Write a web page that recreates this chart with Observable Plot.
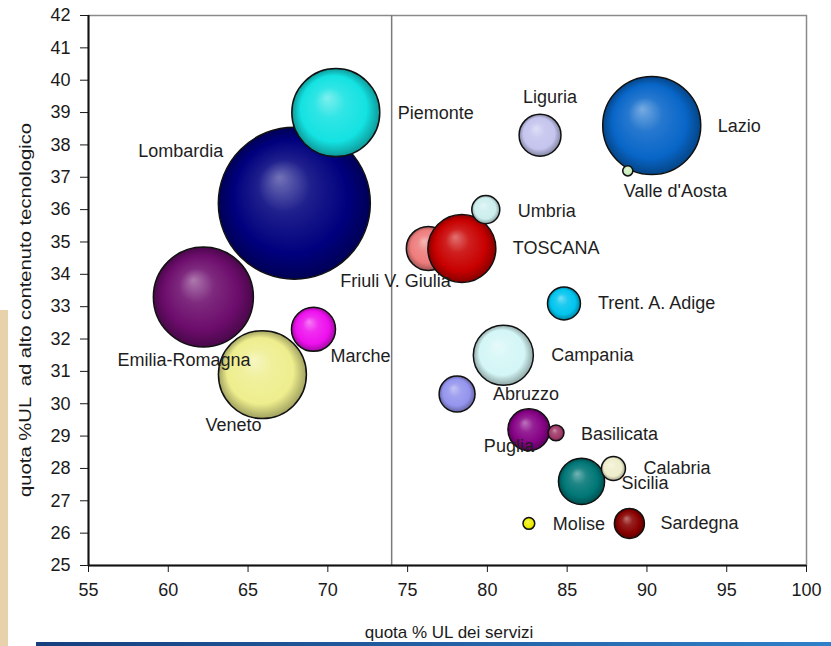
<!DOCTYPE html>
<html><head><meta charset="utf-8">
<script src="https://cdn.jsdelivr.net/npm/d3@7"></script>
<script src="https://cdn.jsdelivr.net/npm/@observablehq/plot@0.6"></script>
<style>
html,body{margin:0;padding:0;background:#fff;}
#wrap{position:relative;width:831px;height:646px;overflow:hidden;background:#fff;}
#chart{position:absolute;left:0;top:0;}
#beige{position:absolute;left:0;top:310px;width:8px;height:336px;background:#e8d2ab;}
#bar{position:absolute;left:36px;top:642px;width:795px;height:4px;background:linear-gradient(90deg,#163f7e,#2f80c8);}
</style></head><body>
<div id="wrap"><div id="chart"></div><div id="beige"></div><div id="bar"></div></div>
<script>
// Data (draw order)
const regions = ["Lombardia","Piemonte","Lazio","Valle d'Aosta","Liguria","Emilia-Romagna","Veneto","Marche","Friuli V. Giulia","TOSCANA","Umbria","Trent. A. Adige","Campania","Abruzzo","Puglia","Basilicata","Sicilia","Calabria","Molise","Sardegna"];
const servizi = [67.9, 70.5, 90.3, 88.8, 83.3, 62.2, 65.9, 69.1, 76.3, 78.4, 79.9, 84.8, 81.0, 78.1, 82.6, 84.3, 85.9, 87.9, 82.6, 88.9];
const altaTec = [36.2, 39.0, 38.6, 37.2, 38.3, 33.3, 30.9, 32.3, 34.8, 34.8, 36.0, 33.1, 31.5, 30.3, 29.2, 29.1, 27.6, 28.0, 26.3, 26.3];
const peso    = [100, 33.5, 41.6, 0.45, 7.6, 43.3, 33.5, 8.4, 8.4, 20.0, 3.4, 4.7, 15.6, 5.6, 7.6, 1.1, 9.2, 2.5, 0.6, 3.9];
const colors  = ["#00007e","#14e2e2","#0866c8","#cdeebf","#c4c4ee","#6c0c6c","#eeee8e","#ee10ee","#ee7c7c","#c80000","#cdeeee","#00c4ee","#d4f6f6","#9494ee","#860286","#a03868","#007676","#eeeecc","#eeee00","#880000"];
const xTicks = [55, 60, 65, 70, 75, 80, 85, 90, 95, 100];
const yTicks = [25, 26, 27, 28, 29, 30, 31, 32, 33, 34, 35, 36, 37, 38, 39, 40, 41, 42];
const soglia = [74];

// Label placement (pixels from bubble centre)
const labelOffset = {
  "Lombardia":[-156,-52], "Piemonte":[62,1], "Lazio":[66,1], "Valle d'Aosta":[-4,20],
  "Liguria":[-17,-38], "Emilia-Romagna":[-86,63], "Veneto":[-57,51], "Marche":[17,27],
  "Friuli V. Giulia":[-88,33], "TOSCANA":[51,0], "Umbria":[32,2], "Trent. A. Adige":[34,0],
  "Campania":[48,0], "Abruzzo":[36,0], "Puglia":[-45,17], "Basilicata":[25,1],
  "Sicilia":[40,2], "Calabria":[30,0], "Molise":[24,1], "Sardegna":[31,0]
};

const data = regions.map((r,i)=>({region:r, x:servizi[i], y:altaTec[i], size:peso[i], color:colors[i]}));

const labelMarks = data.map(d => Plot.text([d], {
  x:"x", y:"y", text:"region", textAnchor:"start",
  dx: labelOffset[d.region][0], dy: labelOffset[d.region][1],
  fontSize:18, fill:"#1e1e1e"
}));

const plot = Plot.plot({
  width:831, height:646,
  marginLeft:88, marginRight:25, marginTop:15, marginBottom:81,
  style:{fontFamily:"'Liberation Sans', Arial, sans-serif", fontSize:"18px", color:"#1a1a1a", background:"transparent"},
  x:{domain:[55,100]},
  y:{domain:[25,42]},
  r:{type:"sqrt", domain:[0,100], range:[0,76]},
  color:{type:"identity"},
  marks:[
    Plot.frame({stroke:"#8a8a8a", strokeWidth:1.5}),
    Plot.ruleX(soglia, {stroke:"#7a7a7a", strokeWidth:1.5}),
    Plot.axisX({ticks:xTicks, tickSize:7, tickPadding:11, label:null, fontSize:18, tickFormat:d=>String(d)}),
    Plot.axisY({ticks:yTicks, tickSize:8, tickPadding:10, label:null, fontSize:18, tickFormat:d=>String(d)}),
    Plot.ruleY([25], {stroke:"#111", strokeWidth:2}),
    Plot.ruleX([55], {stroke:"#111", strokeWidth:2}),
    Plot.dot(data, {x:"x", y:"y", r:"size", fill:"color", stroke:"#111", strokeWidth:1.5, sort:null}),
    ...labelMarks
  ]
});

const svg = d3.select(plot);
const defs = svg.insert("defs", ":first-child");
svg.selectAll('g[aria-label="dot"] circle').each(function(_, j){
  const sel = d3.select(this);
  const c = sel.attr("fill");
  const id = "sphere" + j;
  const g = defs.append("radialGradient").attr("id", id)
    .attr("cx","50%").attr("cy","50%").attr("r","50%").attr("fx","40%").attr("fy","33%");
  g.append("stop").attr("offset","0%").attr("stop-color", d3.interpolateRgb(c, "#ffffff")(0.45));
  g.append("stop").attr("offset","35%").attr("stop-color", d3.interpolateRgb(c, "#ffffff")(0.12));
  g.append("stop").attr("offset","75%").attr("stop-color", c);
  g.append("stop").attr("offset","100%").attr("stop-color", d3.color(c).darker(1.1).formatHex());
  sel.attr("fill", `url(#${id})`);
});

svg.append("text")
  .attr("transform","translate(27,310) rotate(-90)")
  .attr("text-anchor","middle").attr("dominant-baseline","middle")
  .attr("font-size",17).attr("fill","#1a1a1a")
  .attr("textLength",374).attr("lengthAdjust","spacingAndGlyphs")
  .style("white-space","pre")
  .text("quota %UL  ad alto contenuto tecnologico");

svg.append("text")
  .attr("x",449).attr("y",638)
  .attr("text-anchor","middle")
  .attr("font-size",17).attr("fill","#1a1a1a")
  .text("quota % UL dei servizi");

document.getElementById("chart").appendChild(plot);
</script>
</body></html>
